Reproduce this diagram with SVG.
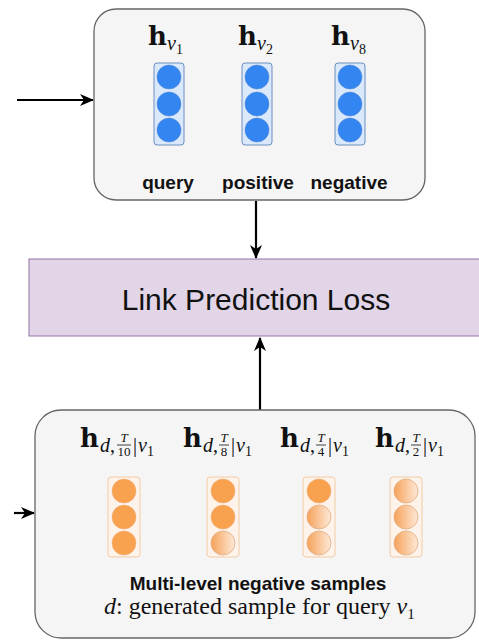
<svg xmlns="http://www.w3.org/2000/svg" width="479" height="640" viewBox="0 0 479 640">
<style>
.panel{fill:#f5f5f5;stroke:#666666;stroke-width:1.3}
.loss{fill:#e1d5e7;stroke:#9673a6;stroke-width:1}
.bcol{fill:#dae8fc;stroke:#6c8ebf;stroke-width:1}
.bdot{fill:#3385f2;stroke:#5a8bd0;stroke-width:0.6}
.ocol{fill:#fdf3ea;stroke:#f1cba6;stroke-width:1}
.odot{fill:#f8a24f;stroke:#f0b07a;stroke-width:0.6}
.gdot{fill:url(#og);stroke:#e0ac80;stroke-width:0.8}
.lbl{font-family:"Liberation Sans",Arial,sans-serif;font-weight:bold;font-size:19px;fill:#111;text-anchor:middle}
.big{font-family:"Liberation Sans",Arial,sans-serif;font-size:30px;fill:#111;text-anchor:middle}
.mb{font-family:"DejaVu Serif",serif;font-weight:bold;font-size:26px;fill:#111}
.mi{font-family:"Liberation Serif","DejaVu Serif",serif;font-style:italic;font-size:20px;fill:#111}
.mr{font-family:"Liberation Serif","DejaVu Serif",serif;font-size:20px;fill:#111}
.ms{font-family:"Liberation Serif","DejaVu Serif",serif;font-size:14px;fill:#111}
.mf{font-family:"Liberation Serif","DejaVu Serif",serif;font-size:13px;fill:#111;text-anchor:middle}
.mfi{font-family:"Liberation Serif","DejaVu Serif",serif;font-style:italic;font-size:13px;fill:#111;text-anchor:middle}
.cap{font-family:"Liberation Serif","Times New Roman",serif;font-size:24px;fill:#111}
.edge{stroke:#000;stroke-width:2.2;fill:none}
.fl{stroke:#111;stroke-width:0.8}
</style>
<defs>
<linearGradient id="og" x1="0" y1="0" x2="1" y2="0">
<stop offset="0" stop-color="#f6a25a"/>
<stop offset="1" stop-color="#fde9d8"/>
</linearGradient>
<marker id="ah" viewBox="0 0 14 12" refX="13" refY="6" markerWidth="14" markerHeight="12" orient="auto" markerUnits="userSpaceOnUse">
<path d="M0,0 L14,6 L0,12 L4,6 Z" fill="#000"/>
</marker>
</defs>

<g id="connectors">
<line class="edge" x1="17" y1="100" x2="93" y2="100" marker-end="url(#ah)"/>
<line class="edge" x1="256" y1="201" x2="256" y2="258" marker-end="url(#ah)"/>
<line class="edge" x1="260" y1="410" x2="260" y2="338" marker-end="url(#ah)"/>
<line class="edge" x1="14" y1="513" x2="34" y2="513" marker-end="url(#ah)"/>
</g>

<g id="positive-panel">
<rect class="panel" x="94" y="9" width="331" height="191" rx="22"/>
<g id="hv1">
<text class="mb" x="148" y="45">h</text><text class="mi" x="167" y="50">v</text><text class="ms" x="176" y="54">1</text>
<rect class="bcol" x="154" y="63" width="30" height="82" rx="3"/>
<circle class="bdot" cx="169" cy="77" r="12"/><circle class="bdot" cx="169" cy="104" r="12"/><circle class="bdot" cx="169" cy="130" r="12"/>
<text class="lbl" x="168" y="189">query</text>
</g>
<g id="hv2">
<text class="mb" x="238" y="45">h</text><text class="mi" x="257" y="50">v</text><text class="ms" x="266" y="54">2</text>
<rect class="bcol" x="242" y="63" width="30" height="82" rx="3"/>
<circle class="bdot" cx="257" cy="77" r="12"/><circle class="bdot" cx="257" cy="104" r="12"/><circle class="bdot" cx="257" cy="130" r="12"/>
<text class="lbl" x="258" y="189">positive</text>
</g>
<g id="hv8">
<text class="mb" x="331" y="45">h</text><text class="mi" x="350" y="50">v</text><text class="ms" x="359" y="54">8</text>
<rect class="bcol" x="335" y="63" width="30" height="82" rx="3"/>
<circle class="bdot" cx="350" cy="77" r="12"/><circle class="bdot" cx="350" cy="104" r="12"/><circle class="bdot" cx="350" cy="130" r="12"/>
<text class="lbl" x="349" y="189">negative</text>
</g>
</g>

<g id="link-prediction-loss">
<rect class="loss" x="29" y="259" width="460" height="77"/>
<text class="big" x="256" y="310">Link Prediction Loss</text>
</g>

<g id="negative-panel">
<rect class="panel" x="35" y="410" width="440" height="228" rx="26"/>
<g id="hd10">
<text class="mb" x="80" y="447">h</text>
<text class="mi" x="100" y="452">d</text><text class="mr" x="110" y="452">,</text>
<text class="mfi" x="124" y="442">T</text><line class="fl" x1="117" y1="445" x2="131" y2="445"/><text class="mf" x="124" y="456">10</text>
<text class="mr" x="133" y="452">|</text><text class="mi" x="138" y="452">v</text><text class="ms" x="147" y="456">1</text>
<rect class="ocol" x="108" y="477" width="32" height="80" rx="3"/>
<circle class="odot" cx="124" cy="491" r="12"/><circle class="odot" cx="124" cy="517" r="12"/><circle class="odot" cx="124" cy="543" r="12"/>
</g>
<g id="hd8">
<text class="mb" x="183" y="447">h</text>
<text class="mi" x="203" y="452">d</text><text class="mr" x="213" y="452">,</text>
<text class="mfi" x="224" y="442">T</text><line class="fl" x1="219" y1="445" x2="229" y2="445"/><text class="mf" x="224" y="456">8</text>
<text class="mr" x="231" y="452">|</text><text class="mi" x="236" y="452">v</text><text class="ms" x="245" y="456">1</text>
<rect class="ocol" x="207" y="477" width="32" height="80" rx="3"/>
<circle class="odot" cx="223" cy="491" r="12"/><circle class="odot" cx="223" cy="517" r="12"/><circle class="gdot" cx="223" cy="543" r="12"/>
</g>
<g id="hd4">
<text class="mb" x="280" y="447">h</text>
<text class="mi" x="300" y="452">d</text><text class="mr" x="310" y="452">,</text>
<text class="mfi" x="321" y="442">T</text><line class="fl" x1="316" y1="445" x2="326" y2="445"/><text class="mf" x="321" y="456">4</text>
<text class="mr" x="328" y="452">|</text><text class="mi" x="333" y="452">v</text><text class="ms" x="342" y="456">1</text>
<rect class="ocol" x="303" y="477" width="32" height="80" rx="3"/>
<circle class="odot" cx="319" cy="491" r="12"/><circle class="gdot" cx="319" cy="517" r="12"/><circle class="gdot" cx="319" cy="543" r="12"/>
</g>
<g id="hd2">
<text class="mb" x="375" y="447">h</text>
<text class="mi" x="395" y="452">d</text><text class="mr" x="405" y="452">,</text>
<text class="mfi" x="416" y="442">T</text><line class="fl" x1="411" y1="445" x2="421" y2="445"/><text class="mf" x="416" y="456">2</text>
<text class="mr" x="423" y="452">|</text><text class="mi" x="428" y="452">v</text><text class="ms" x="437" y="456">1</text>
<rect class="ocol" x="390" y="477" width="32" height="80" rx="3"/>
<circle class="gdot" cx="406" cy="491" r="12"/><circle class="gdot" cx="406" cy="517" r="12"/><circle class="gdot" cx="406" cy="543" r="12"/>
</g>
<text class="lbl" x="258" y="590">Multi-level negative samples</text>
<text class="cap" x="104" y="614"><tspan font-style="italic">d</tspan>: generated sample for query <tspan font-style="italic">v</tspan><tspan font-size="15" dy="5">1</tspan></text>
</g>
</svg>
